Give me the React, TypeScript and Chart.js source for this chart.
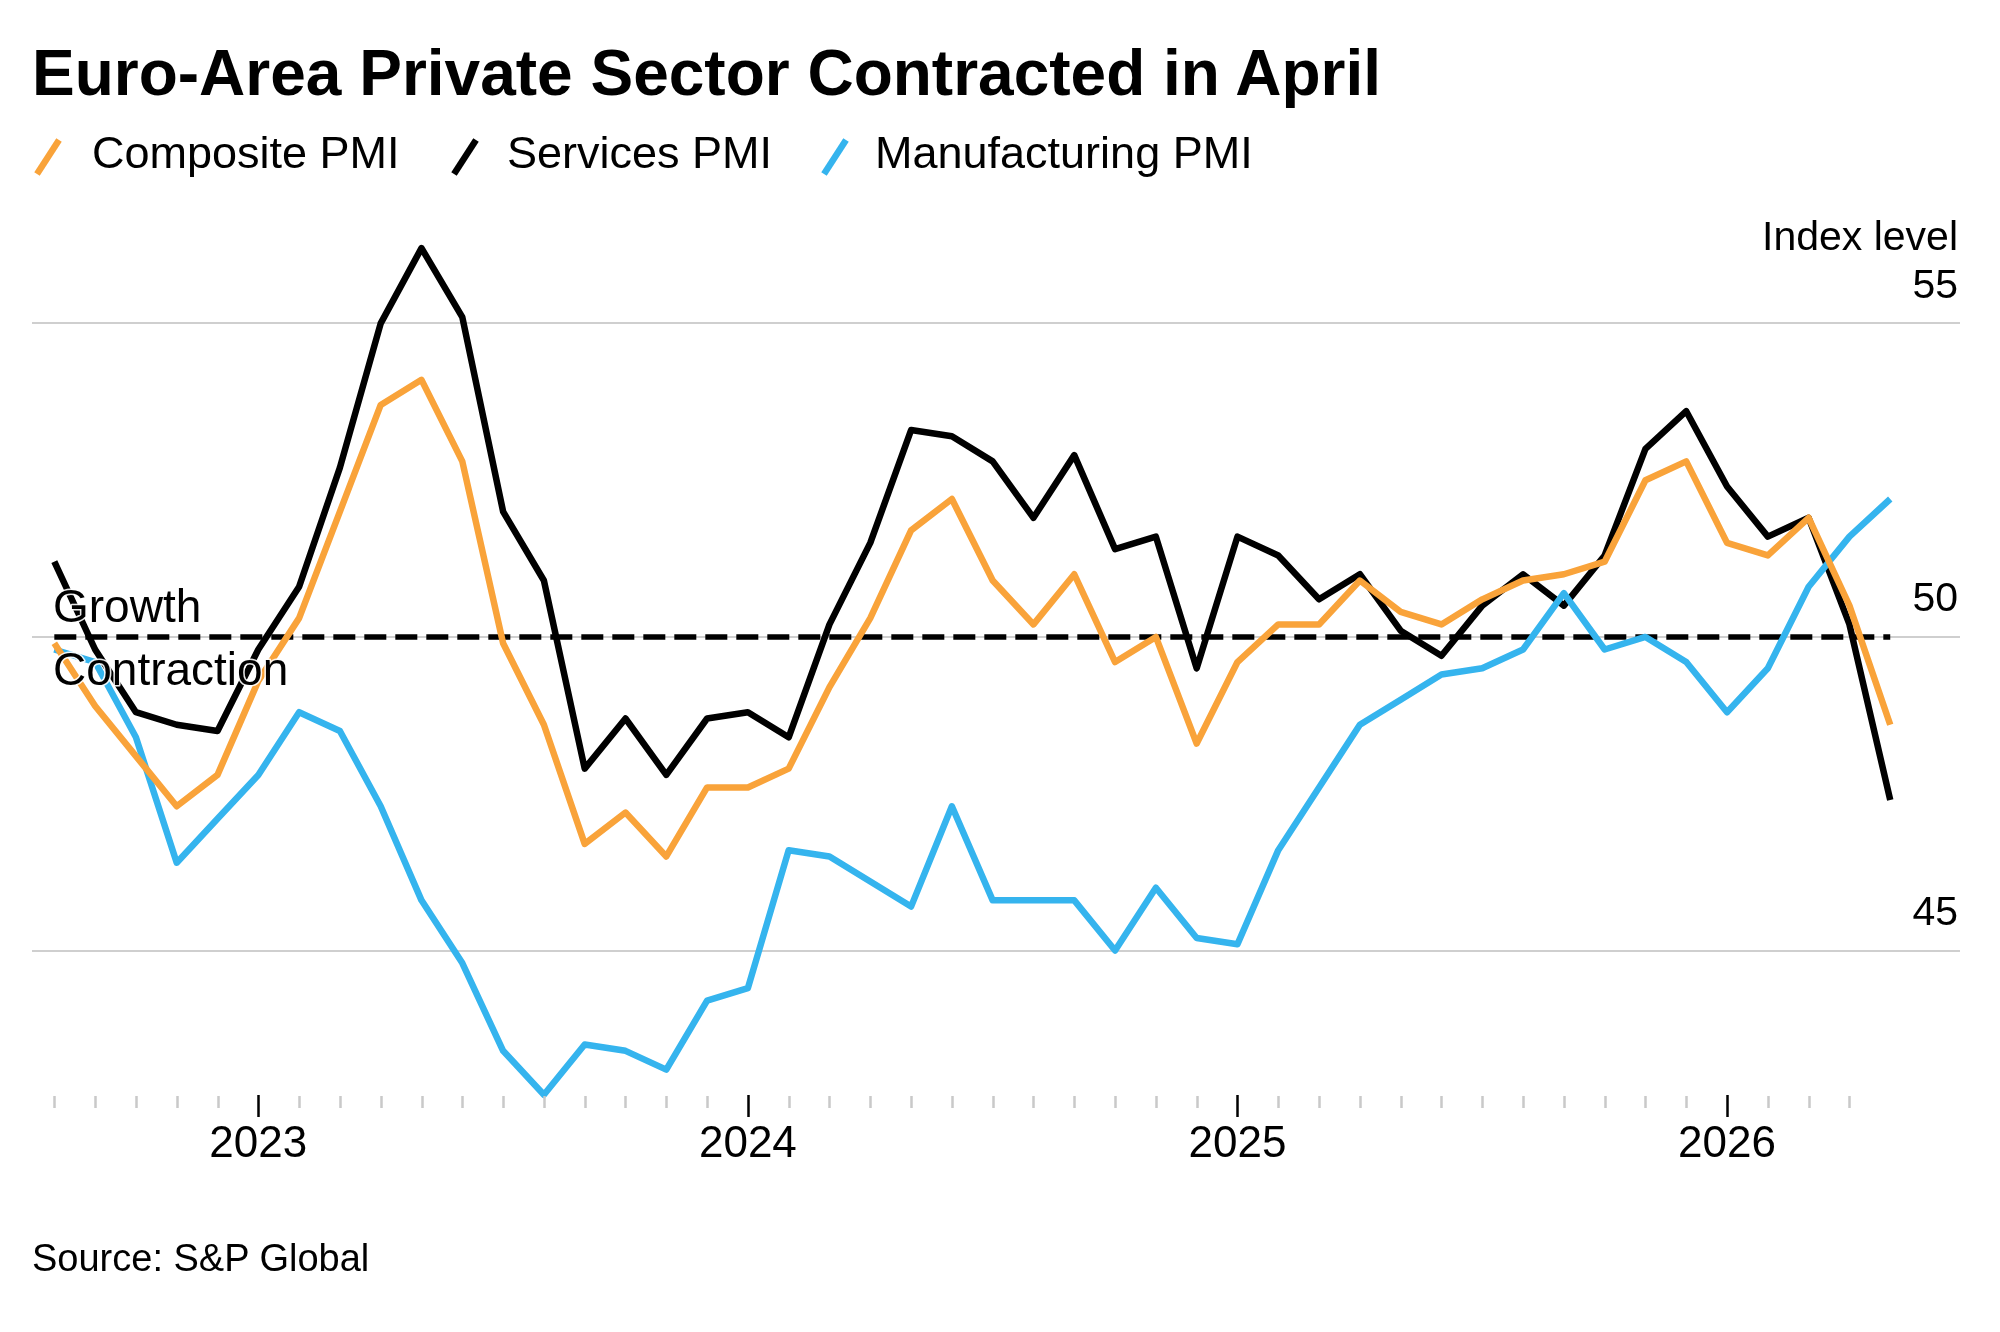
import React, { useEffect, useRef } from "react";
import { Chart, registerables } from "chart.js";

Chart.register(...registerables);

// ---- data (month-end points, Jul 2022 .. Apr 2026) ----
const months = [
  "Jul 2022", "Aug 2022", "Sep 2022", "Oct 2022", "Nov 2022", "Dec 2022",
  "Jan 2023", "Feb 2023", "Mar 2023", "Apr 2023", "May 2023", "Jun 2023",
  "Jul 2023", "Aug 2023", "Sep 2023", "Oct 2023", "Nov 2023", "Dec 2023",
  "Jan 2024", "Feb 2024", "Mar 2024", "Apr 2024", "May 2024", "Jun 2024",
  "Jul 2024", "Aug 2024", "Sep 2024", "Oct 2024", "Nov 2024", "Dec 2024",
  "Jan 2025", "Feb 2025", "Mar 2025", "Apr 2025", "May 2025", "Jun 2025",
  "Jul 2025", "Aug 2025", "Sep 2025", "Oct 2025", "Nov 2025", "Dec 2025",
  "Jan 2026", "Feb 2026", "Mar 2026", "Apr 2026",
];

const composite = [
  49.9, 48.9, 48.1, 47.3, 47.8, 49.3,
  50.3, 52.0, 53.7, 54.1, 52.8, 49.9, 48.6, 46.7, 47.2, 46.5, 47.6, 47.6,
  47.9, 49.2, 50.3, 51.7, 52.2, 50.9, 50.2, 51.0, 49.6, 50.0, 48.3, 49.6,
  50.2, 50.2, 50.9, 50.4, 50.2, 50.6, 50.9, 51.0, 51.2, 52.5, 52.8, 51.5,
  51.3, 51.9, 50.5, 48.6,
];

const services = [
  51.2, 49.8, 48.8, 48.6, 48.5, 49.8,
  50.8, 52.7, 55.0, 56.2, 55.1, 52.0, 50.9, 47.9, 48.7, 47.8, 48.7, 48.8,
  48.4, 50.2, 51.5, 53.3, 53.2, 52.8, 51.9, 52.9, 51.4, 51.6, 49.5, 51.6,
  51.3, 50.6, 51.0, 50.1, 49.7, 50.5, 51.0, 50.5, 51.3, 53.0, 53.6, 52.4,
  51.6, 51.9, 50.2, 47.4,
];

const manufacturing = [
  49.8, 49.6, 48.4, 46.4, 47.1, 47.8,
  48.8, 48.5, 47.3, 45.8, 44.8, 43.4, 42.7, 43.5, 43.4, 43.1, 44.2, 44.4,
  46.6, 46.5, 46.1, 45.7, 47.3, 45.8, 45.8, 45.8, 45.0, 46.0, 45.2, 45.1,
  46.6, 47.6, 48.6, 49.0, 49.4, 49.5, 49.8, 50.7, 49.8, 50.0, 49.6, 48.8,
  49.5, 50.8, 51.6, 52.2,
];

const yearTicks = [5, 17, 29, 41]; // year-boundary positions (index into months)
const yearLabels = ["2023", "2024", "2025", "2026"];
const yTicks = [45, 50, 55];
const threshold = 50;

const FONT = "'Liberation Sans', Arial, Helvetica, sans-serif";
const ORANGE = "#F9A33A";
const BLACK = "#000000";
const BLUE = "#35B4EE";
const LINE_W = 6.5;

const overlayPlugin = {
  id: "overlay",
  beforeDatasetsDraw(chart: any) {
    const { ctx, scales } = chart;
    const x = scales.x;
    const y = scales.y;
    const yy = y.getPixelForValue(threshold);
    ctx.save();
    ctx.strokeStyle = "#000";
    ctx.lineWidth = 5.5;
    ctx.setLineDash([22, 9]);
    ctx.beginPath();
    ctx.moveTo(x.getPixelForValue(0), yy);
    ctx.lineTo(x.getPixelForValue(months.length - 1), yy);
    ctx.stroke();
    ctx.restore();
  },
  afterDatasetsDraw(chart: any) {
    const { ctx, scales } = chart;
    const y = scales.y;
    const yy = y.getPixelForValue(threshold);
    ctx.save();
    ctx.font = `46px ${FONT}`;
    ctx.textBaseline = "alphabetic";
    ctx.textAlign = "left";
    ctx.lineJoin = "round";
    ctx.strokeStyle = "rgba(255,255,255,0.9)";
    ctx.lineWidth = 3;
    ctx.fillStyle = "#000";
    ctx.strokeText("Growth", 53, yy - 15);
    ctx.fillText("Growth", 53, yy - 15);
    ctx.strokeText("Contraction", 53, yy + 48.5);
    ctx.fillText("Contraction", 53, yy + 48.5);
    ctx.restore();
  },
  afterDraw(chart: any) {
    const { ctx, scales, chartArea } = chart;
    const x = scales.x;
    const b = chartArea.bottom;
    ctx.save();
    for (let i = 0; i < months.length - 1; i++) {
      const px = Math.round(x.getPixelForValue(i)) + 0.5;
      const major = yearTicks.includes(i);
      ctx.beginPath();
      ctx.strokeStyle = major ? "#000" : "#c9c9c9";
      ctx.lineWidth = 2.5;
      if (major) {
        ctx.moveTo(px, b - 6);
        ctx.lineTo(px, b + 16);
      } else {
        ctx.moveTo(px, b - 5);
        ctx.lineTo(px, b + 7);
      }
      ctx.stroke();
    }
    ctx.restore();
  },
};

function toXY(arr: number[]) {
  return arr.map((v, i) => ({ x: i, y: v }));
}

export default function App() {
  const canvasRef = useRef<HTMLCanvasElement | null>(null);

  useEffect(() => {
    if (!canvasRef.current) return;
    const chart = new Chart(canvasRef.current, {
      type: "line",
      data: {
        datasets: [
          {
            label: "Composite PMI",
            data: toXY(composite),
            borderColor: ORANGE,
            backgroundColor: ORANGE,
            borderWidth: LINE_W,
            pointRadius: 0,
            tension: 0,
            borderJoinStyle: "round",
            order: 0,
          },
          {
            label: "Services PMI",
            data: toXY(services),
            borderColor: BLACK,
            backgroundColor: BLACK,
            borderWidth: LINE_W,
            pointRadius: 0,
            tension: 0,
            borderJoinStyle: "round",
            order: 2,
          },
          {
            label: "Manufacturing PMI",
            data: toXY(manufacturing),
            borderColor: BLUE,
            backgroundColor: BLUE,
            borderWidth: LINE_W,
            pointRadius: 0,
            tension: 0,
            borderJoinStyle: "round",
            order: 1,
          },
        ],
      } as any,
      options: {
        animation: false,
        responsive: true,
        maintainAspectRatio: false,
        layout: { padding: { left: 32, right: 40, top: 198, bottom: 151 } },
        plugins: {
          legend: { display: false },
          tooltip: { enabled: false },
          title: { display: false },
        },
        scales: {
          x: {
            type: "linear",
            min: -0.547,
            max: 46.71,
            afterBuildTicks: (ax: any) => {
              ax.ticks = yearTicks.map((v) => ({ value: v }));
            },
            afterFit: (ax: any) => {
              ax.height = 80;
            },
            ticks: {
              autoSkip: false,
              maxRotation: 0,
              padding: 22,
              color: "#000",
              font: { family: FONT, size: 44, lineHeight: 1 },
              callback: (v: any) => {
                const k = yearTicks.indexOf(Number(v));
                return k >= 0 ? yearLabels[k] : "";
              },
            },
            grid: { display: false, drawTicks: false },
            border: { display: false },
          },
          y: {
            position: "right",
            min: 42.6,
            max: 57,
            afterBuildTicks: (ax: any) => {
              ax.ticks = yTicks.map((v) => ({ value: v }));
            },
            afterFit: (ax: any) => {
              ax.width = 0;
            },
            ticks: {
              mirror: true,
              padding: -2,
              labelOffset: -37,
              color: "#000",
              font: { family: FONT, size: 41 },
              callback: (v: any) => String(v),
            },
            grid: { color: "#cfcfcf", lineWidth: 2, drawTicks: false },
            border: { display: false },
          },
        },
      } as any,
      plugins: [overlayPlugin],
    });
    return () => chart.destroy();
  }, []);

  const legendText: React.CSSProperties = {
    position: "absolute",
    top: 129.9,
    fontFamily: FONT,
    fontSize: 45,
    lineHeight: 1,
    color: "#000",
    whiteSpace: "nowrap",
  };
  const slash = (left: number, color: string) => (
    <svg
      style={{ position: "absolute", left, top: 137 }}
      width={30}
      height={40}
      viewBox="0 0 30 40"
    >
      <line x1={4} y1={37} x2={26} y2={3} stroke={color} strokeWidth={6.5} />
    </svg>
  );

  return (
    <div
      style={{
        position: "fixed",
        left: 0,
        top: 0,
        width: 2000,
        height: 1332,
        background: "#fff",
        overflow: "hidden",
      }}
    >
      <div style={{ position: "absolute", left: 0, top: 0, width: 2000, height: 1332 }}>
        <canvas ref={canvasRef} />
      </div>
      <div
        style={{
          position: "absolute",
          left: 32,
          top: 40.8,
          fontFamily: FONT,
          fontWeight: 700,
          fontSize: 64,
          lineHeight: 1,
          color: "#000",
          whiteSpace: "nowrap",
        }}
      >
        Euro-Area Private Sector Contracted in April
      </div>
      {slash(33, ORANGE)}
      <div style={{ ...legendText, left: 92 }}>Composite PMI</div>
      {slash(450, BLACK)}
      <div style={{ ...legendText, left: 507 }}>Services PMI</div>
      {slash(820, BLUE)}
      <div style={{ ...legendText, left: 875 }}>Manufacturing PMI</div>
      <div
        style={{
          position: "absolute",
          left: 0,
          width: 1958,
          top: 216.3,
          textAlign: "right",
          fontFamily: FONT,
          fontSize: 41,
          lineHeight: 1,
          color: "#000",
          whiteSpace: "nowrap",
        }}
      >
        Index level
      </div>
      <div
        style={{
          position: "absolute",
          left: 32,
          top: 1271 - 0.8465 * 38,
          fontFamily: FONT,
          fontSize: 38,
          lineHeight: 1,
          color: "#000",
          whiteSpace: "nowrap",
        }}
      >
        Source: S&amp;P Global
      </div>
    </div>
  );
}
